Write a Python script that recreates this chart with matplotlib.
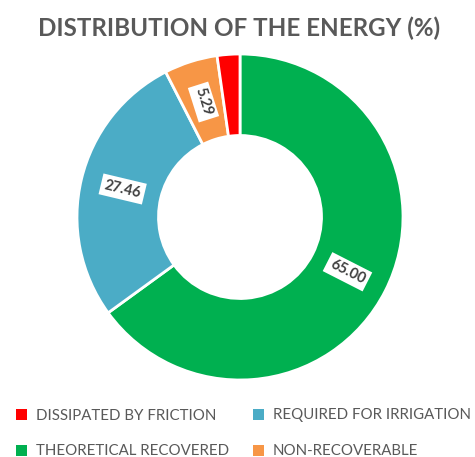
import matplotlib
matplotlib.use("Agg")
import matplotlib.pyplot as plt
from matplotlib.patches import Patch
import numpy as np

categories = ["THEORETICAL RECOVERED", "REQUIRED FOR IRRIGATION", "NON-RECOVERABLE", "DISSIPATED BY FRICTION"]
values = [65.00, 27.46, 5.29, 2.25]
labels = ["65.00", "27.46", "5.29", ""]
colors = ["#00B050", "#4BACC6", "#F79646", "#FF0000"]

plt.rcParams['font.family'] = ['Lato', 'DejaVu Sans']

W, H = 475, 457
fig = plt.figure(figsize=(W/100, H/100), dpi=100)
cx, cy, R = 240, 457 - 217, 163
half = 170
ax = fig.add_axes([(cx-half)/W, (cy-half)/H, 2*half/W, 2*half/H])

wedges, _ = ax.pie(values, colors=colors, startangle=90, counterclock=False,
                   radius=1.0, wedgeprops=dict(width=0.5, edgecolor='white', linewidth=2))
lim = half / R
ax.set_xlim(-lim, lim)
ax.set_ylim(-lim, lim)
ax.set_aspect('equal')
ax.axis('off')

for w, lab in zip(wedges, labels):
    if not lab:
        continue
    theta = (w.theta1 + w.theta2) / 2
    r = 0.74
    x = r * np.cos(np.radians(theta))
    y = r * np.sin(np.radians(theta))
    rot = theta
    while rot > 90:
        rot -= 180
    while rot < -90:
        rot += 180
    ax.text(x, y, lab, rotation=rot, rotation_mode='anchor', ha='center', va='center',
            fontsize=10.5, fontweight='bold', color='#404040',
            bbox=dict(boxstyle='square,pad=0.25', fc='white', ec='none'))

fig.text(239/W, 1 - 28/H, "DISTRIBUTION OF THE ENERGY (%)", ha='center', va='center',
         fontsize=17.4, fontweight='bold', color='#595959')

order = [3, 0, 1, 2]
handles = [Patch(facecolor=colors[i], edgecolor='none') for i in order]
names = [categories[i] for i in order]
fig.legend(handles, names, loc='upper left', bbox_to_anchor=(2/W, 1 - 395/H), ncol=2,
           frameon=False, fontsize=10.8, handlelength=0.75, handleheight=0.75,
           handletextpad=0.6, columnspacing=1.6, labelspacing=1.45,
           labelcolor='#595959')

fig.savefig("out.png", dpi=100)
